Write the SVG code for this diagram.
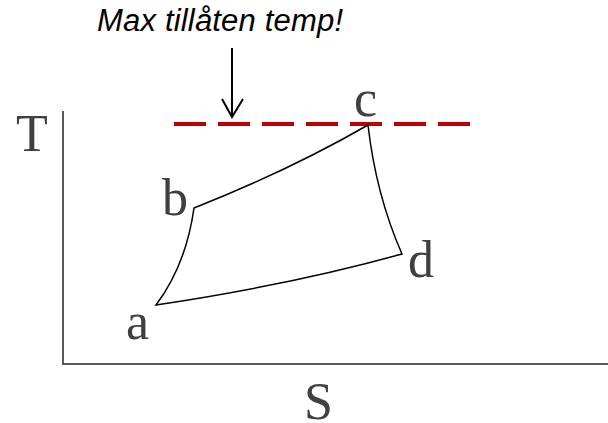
<svg xmlns="http://www.w3.org/2000/svg" width="608" height="423" viewBox="0 0 608 423">
<style>
.lbl{font-family:"Liberation Serif","Times New Roman",serif;font-size:52px;fill:#404040}
.cyc{fill:none;stroke:#000;stroke-width:1.5}
.ax{fill:none;stroke:#5a5a5a;stroke-width:2}
</style>
<rect width="608" height="423" fill="#fff"/>
<g id="axes">
<path class="ax" d="M63,111 V364 H608"/>
<text class="lbl" x="16" y="151">T</text>
<text class="lbl" x="304" y="419">S</text>
</g>
<g id="maxline">
<line x1="174" y1="124" x2="470" y2="124" stroke="#c00000" stroke-width="4" stroke-dasharray="32 12"/>
</g>
<g id="note">
<text x="97" y="31" font-family="Liberation Sans, Arial, sans-serif" font-style="italic" font-size="31" fill="#000" textLength="246" lengthAdjust="spacing">Max tillåten temp!</text>
</g>
<g id="connectors">
<line x1="232" y1="48" x2="232" y2="117" stroke="#000" stroke-width="2"/>
<path d="M222,99 L232,117 L243,99" fill="none" stroke="#000" stroke-width="2"/>
</g>
<g id="cycle">
<path class="cyc" d="M156,305 Q186,265 194,208 Q290,170 368,125 Q376,195 402,254 Q290,285 156,305 Z"/>
</g>
<g id="a"><text class="lbl" x="126" y="339">a</text></g>
<g id="b"><text class="lbl" x="162" y="215">b</text></g>
<g id="c"><text class="lbl" x="354" y="116">c</text></g>
<g id="d"><text class="lbl" x="408" y="277">d</text></g>
</svg>
